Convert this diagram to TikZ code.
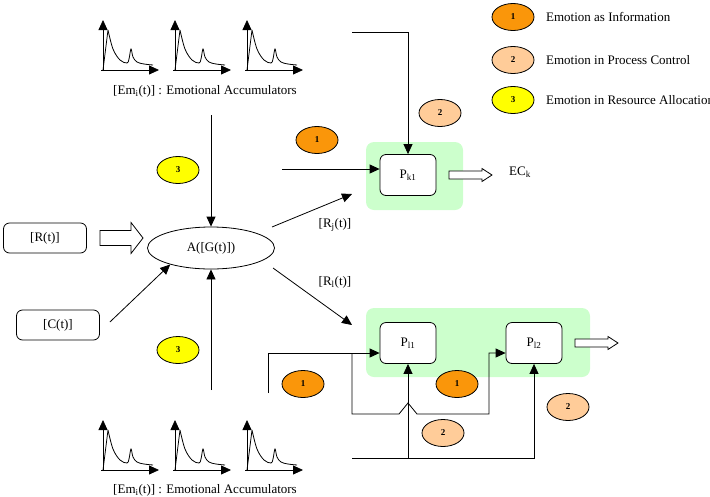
\documentclass[tikz,border=0pt]{standalone}
\usepackage{fontspec}
\setmainfont{Liberation Serif}
\usetikzlibrary{arrows.meta,shapes.geometric,positioning}

\definecolor{infoorange}{RGB}{250,150,10}
\definecolor{ctrlpeach}{RGB}{255,204,153}
\definecolor{resyellow}{RGB}{255,255,0}
\definecolor{groupgreen}{RGB}{204,255,204}

\tikzset{
    every node/.style={font=\fontsize{13}{15}\selectfont},
    tag/.style={ellipse, draw, minimum width=42, minimum height=27, inner sep=0pt,
        font=\fontsize{9}{9}\selectfont\bfseries},
    info/.style={tag, fill=infoorange},
    ctrl/.style={tag, fill=ctrlpeach},
    res/.style={tag, fill=resyellow},
    proc/.style={draw, rounded corners=6, fill=white, minimum width=56, minimum height=41},
    inbox/.style={draw, rounded corners=6, minimum width=83, minimum height=30},
    group/.style={fill=groupgreen, rounded corners=8},
    flow/.style={-{Triangle[length=10pt,width=9pt]}},
    pics/accum/.style={code={
        \draw[flow] (-2,0) -- (56,0);
        \draw[flow] (0,1) -- (0,-50);
        \draw (0,0) -- (5,-40)
            plot[smooth, tension=0.6] coordinates {(5,-40) (10,-21) (17,-10) (24,-7) (26,-11)
                (28,-21) (30,-13) (34,-8) (41,-6) (50,-5)};
    }},
    pics/bigarrow/.style={code={
        \draw[fill=white] (0,-7.5) -- (31,-7.5) -- (31,-15.5) -- (43,0) -- (31,15.5)
            -- (31,7.5) -- (0,7.5) -- cycle;
    }},
    pics/smallarrow/.style={code={
        \draw[fill=white] (0,-4) -- (33,-4) -- (33,-6.5) -- (43,0) -- (33,6.5)
            -- (33,4) -- (0,4) -- cycle;
    }}
}

\begin{document}
\begin{tikzpicture}[x=1pt, y=-1pt, line width=0.8pt]
    \useasboundingbox (0,0) rectangle (710,496);

    % emotional accumulators
    \foreach \xo in {103,175,247} {
        \pic at (\xo,70) {accum};
        \pic at (\xo,470) {accum};
    }
    \node (emtop) at (205,91) {[Em\textsubscript{i}(t)] : Emotional Accumulators};
    \node (embot) at (205,490) {[Em\textsubscript{i}(t)] : Emotional Accumulators};

    % legend
    \node[info] (leg1) at (513,17) {1};
    \node[ctrl] (leg2) at (513,60) {2};
    \node[res] (leg3) at (513,100) {3};
    \node[right=8pt of leg1] {Emotion as Information};
    \node[right=8pt of leg2] {Emotion in Process Control};
    \node[right=8pt of leg3] {Emotion in Resource Allocation};

    % allocation
    \node[inbox] (rbox) at (45,238) {[R(t)]};
    \node[inbox] (cbox) at (58,325) {[C(t)]};
    \node[ellipse, draw, minimum width=127, minimum height=42] (alloc) at (211,248) {A([G(t)])};
    \pic at (100,238) {bigarrow};
    \coordinate (emin) at (211,115);
    \coordinate (emout) at (211,390);
    \draw[flow] (emin) -- (alloc.north);
    \draw[flow] (emout) -- (alloc.south);
    \draw[flow] ([xshift=10pt, yshift=3pt]cbox.east) -- (alloc.202);
    \node[res] (r3a) at (178,170) {3};
    \node[res] (r3b) at (178,350) {3};

    % process k
    \fill[group] (366,142) rectangle (463,210);
    \node[proc] (pk) at (408,175) {P\textsubscript{k1}};
    \pic at (449,175) {smallarrow};
    \node (eck) at (520,172) {EC\textsubscript{k}};
    \coordinate (infoA) at (282,169);
    \coordinate (ctrlA) at (352,32);
    \coordinate (rjfrom) at (272,227);
    \coordinate (rjto) at (352,194);
    \draw[flow] (infoA) -- (infoA -| pk.west);
    \draw[flow] (ctrlA) -| (pk.north);
    \draw[flow] (rjfrom) -- (rjto);
    \node (rj) at (335,225) {[R\textsubscript{j}(t)]};
    \node[info] (i1a) at (317,140) {1};
    \node[ctrl] (c2a) at (440,113) {2};

    % process l
    \fill[group] (366,308) rectangle (590,377);
    \node[proc] (pl1) at (408,343) {P\textsubscript{l1}};
    \node[proc] (pl2) at (534,343) {P\textsubscript{l2}};
    \pic at (575,343) {smallarrow};
    \coordinate (rlfrom) at (273,268);
    \coordinate (rlto) at (352,325);
    \draw[flow] (rlfrom) -- (rlto);
    \node (rl) at (335,282) {[R\textsubscript{l}(t)]};
    \coordinate (infoB) at (268,393);
    \coordinate (split) at (352,353);
    \coordinate (ctrlB) at (352,458);
    \draw[flow] (infoB) |- ([yshift=-10pt]pl1.west);
    \draw[flow] (split) -- (352,414) -- (399,414) -- (408,403) -- (417,414)
        -- (489,414) |- ([yshift=-10pt]pl2.west);
    \draw[flow] (ctrlB) -| (pl2.south);
    \draw[flow] (pl1.south |- ctrlB) -- (pl1.south);
    \node[info] (i1b) at (303,384) {1};
    \node[info] (i1c) at (457,384) {1};
    \node[ctrl] (c2b) at (443,433) {2};
    \node[ctrl] (c2c) at (568,407) {2};
\end{tikzpicture}
\end{document}
